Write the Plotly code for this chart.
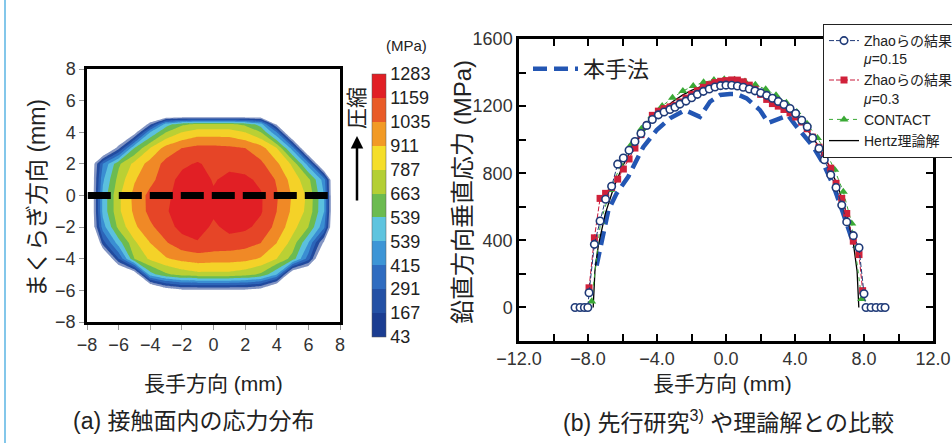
import plotly.graph_objects as go

W, H = 952, 443


def fx(px):
    return px / W


def fy(py):
    return 1 - py / H


FONT = "Liberation Sans, Noto Sans CJK JP, sans-serif"

# ---------------- (a) contact-surface stress map ----------------
grid_x = [-8, -7.5, -7, -6, -5, -4, -3, -2, -1, 0, 1, 2, 3, 4, 5, 6, 7, 7.5, 8]
grid_y = [-6.5, -6, -5, -4, -3, -2, -1, 0, 1, 2, 3, 4, 4.5, 5, 5.5]
stress_band = [
    [-3, -3, -3, -3, -3, -3, -3, -3, -3, -3, -3, -3, -3, -3, -3, -3, -3, -3, -3],
    [-3, -3, -3, -3, -3, -3, -1, -0.3, -0.3, -0.3, -0.3, -0.3, -0.8, -3, -3, -3, -3, -3, -3],
    [-3, -3, -3, -3, -1.5, 4.5, 5.8, 6.4, 6.7, 6.7, 6.7, 6.4, 5.8, 4.0, -2, -3, -3, -3, -3],
    [-3, -3, -3, 2.0, 6.0, 7.2, 7.9, 8.3, 8.5, 8.4, 8.4, 8.3, 7.9, 7.0, 5.6, 2.5, -3, -3, -3],
    [-3, -3, 1.5, 4.5, 6.8, 8.0, 8.9, 9.6, 9.9, 9.7, 9.6, 9.4, 9.0, 8.0, 6.6, 4.0, -0.35, -3, -3],
    [-3, 0.2, 3.5, 6.3, 7.8, 8.8, 9.6, 10.3, 10.5, 9.8, 10.3, 10.2, 9.7, 8.7, 7.4, 6.0, 3.2, -1.0, -3],
    [-3, 0.5, 4.3, 6.8, 8.2, 9.3, 9.9, 10.5, 10.7, 10.2, 10.5, 10.5, 10.1, 9.0, 7.8, 6.7, 4.0, -0.76, -3],
    [-3, 0.5, 4.3, 6.8, 8.3, 9.3, 9.8, 10.4, 10.7, 10.15, 10.5, 10.5, 10.1, 9.1, 7.9, 6.8, 4.0, -0.76, -3],
    [-3, 0.4, 3.8, 6.4, 7.9, 8.7, 9.6, 10.3, 10.6, 9.9, 10.3, 10.2, 9.8, 8.9, 7.6, 6.3, 3.5, -0.88, -3],
    [-3, 0.2, 3.0, 5.8, 7.3, 8.4, 9.3, 9.8, 10.1, 9.7, 9.7, 9.6, 9.2, 8.2, 6.8, 3.5, -3, -3, -3],
    [-3, -3, -3, 0.6, 5.0, 7.0, 8.4, 9.0, 9.3, 9.3, 9.2, 9.0, 8.4, 7.0, 3.5, -3, -3, -3, -3],
    [-3, -3, -3, -3, -0.7, 4.0, 6.0, 7.0, 7.5, 7.5, 7.5, 7.0, 6.0, 3.0, -3, -3, -3, -3, -3],
    [-3, -3, -3, -3, -3, 0.7, 4.5, 5.8, 6.2, 6.2, 6.2, 5.8, 4.5, -0.2, -3, -3, -3, -3, -3],
    [-3, -3, -3, -3, -3, -2, -0.8, -0.8, -0.8, -0.8, -0.8, -0.8, -0.8, -2, -3, -3, -3, -3, -3],
    [-3, -3, -3, -3, -3, -3, -3, -3, -3, -3, -3, -3, -3, -3, -3, -3, -3, -3, -3],
]
band_colors = ["#1b3d91", "#2451a5", "#2f6cc0", "#3d95d6", "#5ec4df", "#6cbb50",
               "#b4cf35", "#f5de29", "#f29a25", "#e95b28", "#e11f25"]
band_labels = ["43", "167", "291", "415", "539", "539", "663", "787", "911", "1035", "1159", "1283"]
section_x = [-7.95, 7.4]
section_y = [0, 0]
map_ticks = [-8, -6, -4, -2, 0, 2, 4, 6, 8]

# ---------------- (b) comparison with previous study / theory ----------------
zhao015_x = [-8.75, -8.46, -8.21, -8.01, -7.94, -7.63, -7.30, -6.98, -6.63, -6.28, -5.95, -5.62, -5.28,
             -4.93, -4.60, -4.27, -3.92, -3.59, -3.25, -2.96, -2.67, -2.32, -1.99, -1.66, -1.31, -0.97,
             -0.64, -0.31, 0.00, 0.33, 0.66, 1.00, 1.35, 1.68, 2.01, 2.36, 2.69, 3.03, 3.36, 3.71, 4.04,
             4.39, 4.71, 5.02, 5.39, 5.70, 6.07, 6.38, 6.71, 7.00, 7.38, 7.71, 8.00, 8.12, 8.41, 8.70,
             8.99, 9.22]
zhao015_y = [0, 0, 0, 0, 88, 376, 515, 645, 722, 854, 891, 937, 989,
             1037, 1085, 1120, 1148, 1165, 1180, 1193, 1212, 1230, 1250, 1270, 1288, 1302,
             1314, 1322, 1325, 1324, 1320, 1312, 1302, 1291, 1279, 1264, 1247, 1228, 1210, 1186, 1156,
             1116, 1077, 1010, 947, 880, 790, 715, 610, 510, 428, 356, 82, 0, 0, 0,
             0, 0]
zhao03_x = [-7.94, -7.63, -7.30, -6.98, -6.63, -6.28, -5.95, -5.62, -5.28, -4.93, -4.60, -4.27, -3.92,
            -3.59, -3.25, -2.96, -2.67, -2.32, -1.99, -1.66, -1.31, -0.97, -0.64, -0.31, 0.00, 0.33,
            0.66, 1.00, 1.35, 1.68, 2.01, 2.36, 2.69, 3.03, 3.36, 3.71, 4.04, 4.39, 4.71, 5.02, 5.39,
            5.70, 6.07, 6.38, 6.71, 7.00, 7.38, 7.71, 7.92]
zhao03_y = [117, 415, 650, 680, 715, 765, 825, 885, 950, 1030, 1085, 1145, 1170,
            1185, 1195, 1205, 1225, 1248, 1270, 1292, 1312, 1328, 1340, 1348, 1352, 1356,
            1355, 1345, 1325, 1300, 1270, 1240, 1215, 1200, 1180, 1160, 1135, 1105, 1065, 1015, 955,
            905, 830, 740, 650, 560, 395, 315, 100]
contact_x = [-7.79, -7.27, -6.70, -6.10, -5.50, -4.90, -4.30, -3.70, -3.10, -2.50, -1.90, -1.30, -0.70,
             -0.10, 0.50, 1.10, 1.70, 2.30, 2.90, 3.50, 4.10, 4.70, 5.30, 5.80, 6.30, 6.80, 7.29, 7.87]
contact_y = [35, 510, 700, 850, 970, 1065, 1140, 1200, 1250, 1290, 1320, 1342, 1355,
             1360, 1357, 1347, 1328, 1300, 1265, 1220, 1165, 1095, 1010, 925, 820, 690, 500, 50]
hertz_x = [-7.70, -7.60, -7.40, -7.00, -6.50, -6.00, -5.50, -5.00, -4.50, -4.00, -3.50, -3.00, -2.50,
           -2.00, -1.50, -1.00, -0.50, 0.00, 0.50, 1.00, 1.50, 2.00, 2.50, 3.00, 3.50, 4.00, 4.50,
           5.00, 5.50, 6.00, 6.50, 7.00, 7.40, 7.60, 7.70]
hertz_y = [0, 215, 370, 558, 718, 840, 938, 1019, 1087, 1145, 1194, 1234, 1267,
           1294, 1314, 1329, 1337, 1340, 1337, 1329, 1314, 1294, 1267, 1234, 1194, 1145, 1087,
           1019, 938, 840, 718, 558, 370, 215, 0]
method_x = [-7.50, -7.20, -6.82, -6.34, -5.66, -5.37, -4.79, -4.02, -3.25, -2.38, -1.51, -0.93, -0.35,
            0.23, 0.62, 1.20, 1.97, 2.45, 3.32, 3.60, 4.00, 4.48, 5.06, 5.64, 6.22, 6.80, 7.29, 7.45]
method_y = [250, 400, 580, 680, 780, 840, 957, 1057, 1127, 1176, 1136, 1226, 1266,
            1272, 1272, 1246, 1176, 1100, 1130, 1145, 1090, 1027, 957, 858, 728, 559, 400, 360]
cmp_xticks = [-12, -10, -8, -6, -4, -2, 0, 2, 4, 6, 8, 10, 12]
cmp_xlabels = ["−12.0", "", "−8.0", "", "−4.0", "", "0.0", "", "4.0", "", "8.0", "", "12.0"]
cmp_yticks = [-200, 0, 200, 400, 600, 800, 1000, 1200, 1400, 1600]
cmp_ylabels = ["", "0", "", "400", "", "800", "", "1200", "", "1600"]

fig = go.Figure()

# contour map
contour_scale = [[0, "white"]] + [[(k + 1) / 12, c] for k, c in enumerate(band_colors)] + [[1, band_colors[-1]]]
fig.add_trace(go.Contour(
    x=grid_x, y=grid_y, z=stress_band, xaxis="x", yaxis="y",
    colorscale=contour_scale, autocontour=False, zmin=-3, zmax=11,
    contours=dict(start=0, end=11, size=1, coloring="fill", showlines=False),
    line=dict(width=0, smoothing=0), showscale=False, hoverinfo="skip", showlegend=False,
))
fig.add_trace(go.Scatter(
    x=section_x, y=section_y, xaxis="x", yaxis="y", mode="lines",
    line=dict(color="black", width=7, dash="23px,8px"), showlegend=False, hoverinfo="skip",
))
# colour bar
cb_scale = []
for k, c in enumerate(band_colors):
    cb_scale += [[k / 11, c], [(k + 1) / 11, c]]
fig.add_trace(go.Scatter(
    x=[None], y=[None], xaxis="x", yaxis="y", mode="markers", showlegend=False, hoverinfo="skip",
    marker=dict(color=[0], cmin=0, cmax=11, colorscale=cb_scale, showscale=True,
                colorbar=dict(x=fx(372), xanchor="left", xref="paper", y=fy(205.5), yanchor="middle",
                              yref="paper", len=263, lenmode="pixels", thickness=14, thicknessmode="pixels",
                              tickvals=list(range(12)), ticktext=band_labels, ticks="",
                              outlinewidth=0.5, outlinecolor="#555", xpad=0, ypad=0,
                              tickfont=dict(size=18, color="#222", family=FONT))),
))

# comparison curves
fig.add_trace(go.Scatter(
    x=method_x, y=method_y, xaxis="x2", yaxis="y2", mode="lines", name="本手法", legend="legend2",
    line=dict(color="#2356b3", width=4.5, dash="14px,7px"),
))
fig.add_trace(go.Scatter(
    x=hertz_x, y=hertz_y, xaxis="x2", yaxis="y2", mode="lines", name="Hertz理論解", legendrank=4,
    line=dict(color="black", width=1.3),
))
fig.add_trace(go.Scatter(
    x=contact_x, y=contact_y, xaxis="x2", yaxis="y2", mode="lines+markers", name="CONTACT", legendrank=3,
    line=dict(color="#3aa935", width=1, dash="4px,4px"),
    marker=dict(symbol="triangle-up", size=8, color="#3aa935"),
))
fig.add_trace(go.Scatter(
    x=zhao03_x, y=zhao03_y, xaxis="x2", yaxis="y2", mode="lines+markers",
    name="Zhaoらの結果<br><i>μ</i>=0.3", legendrank=2,
    line=dict(color="#c8183a", width=1, dash="5px,2px"),
    marker=dict(symbol="square", size=7, color="#d0213a"),
))
fig.add_trace(go.Scatter(
    x=zhao015_x, y=zhao015_y, xaxis="x2", yaxis="y2", mode="lines+markers",
    name="Zhaoらの結果<br><i>μ</i>=0.15", legendrank=1,
    line=dict(color="#1f3a78", width=1, dash="5px,2px"),
    marker=dict(symbol="circle", size=7.5, color="white", line=dict(color="#1f3a78", width=1.6)),
))


def label(text, px, py, size, angle=0):
    return dict(text=text, x=fx(px), y=fy(py), xref="paper", yref="paper", xanchor="center",
                yanchor="middle", showarrow=False, textangle=angle, font=dict(size=size))


ax_common = dict(showgrid=False, zeroline=False, showline=True, linecolor="black", linewidth=2.5)
fig.update_layout(
    width=W, height=H, margin=dict(l=0, r=0, t=0, b=0, autoexpand=False),
    paper_bgcolor="white", plot_bgcolor="white",
    font=dict(family=FONT, color="#222"),
    xaxis=dict(domain=[fx(87), fx(340)], range=[-8, 8], anchor="y", tickvals=map_ticks, mirror=True,
               ticks="outside", ticklen=5, tickcolor="#999", tickfont=dict(size=18, color="#333"), **ax_common),
    yaxis=dict(domain=[fy(322), fy(69)], range=[-8, 8], anchor="x", tickvals=map_ticks, mirror=True,
               ticks="outside", ticklen=5, tickcolor="#999", tickfont=dict(size=18, color="#333"), **ax_common),
    xaxis2=dict(domain=[fx(519), fx(933)], range=[-12, 12], anchor="y2", tickvals=cmp_xticks,
                ticktext=cmp_xlabels, mirror="ticks", ticks="inside", ticklen=7, tickwidth=1.5,
                tickcolor="black", tickfont=dict(size=18, color="#333"), **ax_common),
    yaxis2=dict(domain=[fy(341), fy(39)], range=[-200, 1600], anchor="x2", tickvals=cmp_yticks,
                ticktext=cmp_ylabels, mirror="ticks", ticks="inside", ticklen=7, tickwidth=1.5,
                tickcolor="black", tickfont=dict(size=18, color="#333"), **ax_common),
    legend=dict(x=fx(823), y=fy(24), xanchor="left", yanchor="top", bgcolor="white",
                bordercolor="#222", borderwidth=1, font=dict(size=14, color="#222"),
                valign="top", tracegroupgap=0, itemwidth=30),
    legend2=dict(x=fx(528), y=fy(48), xanchor="left", yanchor="top", bgcolor="rgba(0,0,0,0)",
                 borderwidth=0, font=dict(size=22, color="#222"), itemwidth=45),
    shapes=[dict(type="line", xref="paper", yref="paper", x0=fx(5), x1=fx(5), y0=0, y1=1,
                 line=dict(color="#5ab4e3", width=1.5))],
    annotations=[
        label("まくらぎ方向 (mm)", 37, 198, 23, -90),
        label("長手方向 (mm)", 213, 383, 21),
        label("(a) 接触面内の応力分布", 194, 421, 23),
        label("(MPa)", 406, 45, 15),
        label("圧縮", 356, 108, 21, -90),
        dict(text="", x=fx(357), y=fy(136), xref="paper", yref="paper", showarrow=True,
             ax=0, ay=66, arrowhead=2, arrowsize=1, arrowwidth=2.5, arrowcolor="black"),
        label("鉛直方向垂直応力 (MPa)", 462, 192, 24, -90),
        label("長手方向 (mm)", 722, 383, 21),
        label("(b) 先行研究<sup>3)</sup> や理論解との比較", 728, 421, 23),
    ],
)

fig.write_html("out.html", config={"displayModeBar": False},
               post_script="document.body.style.margin='0px';")
